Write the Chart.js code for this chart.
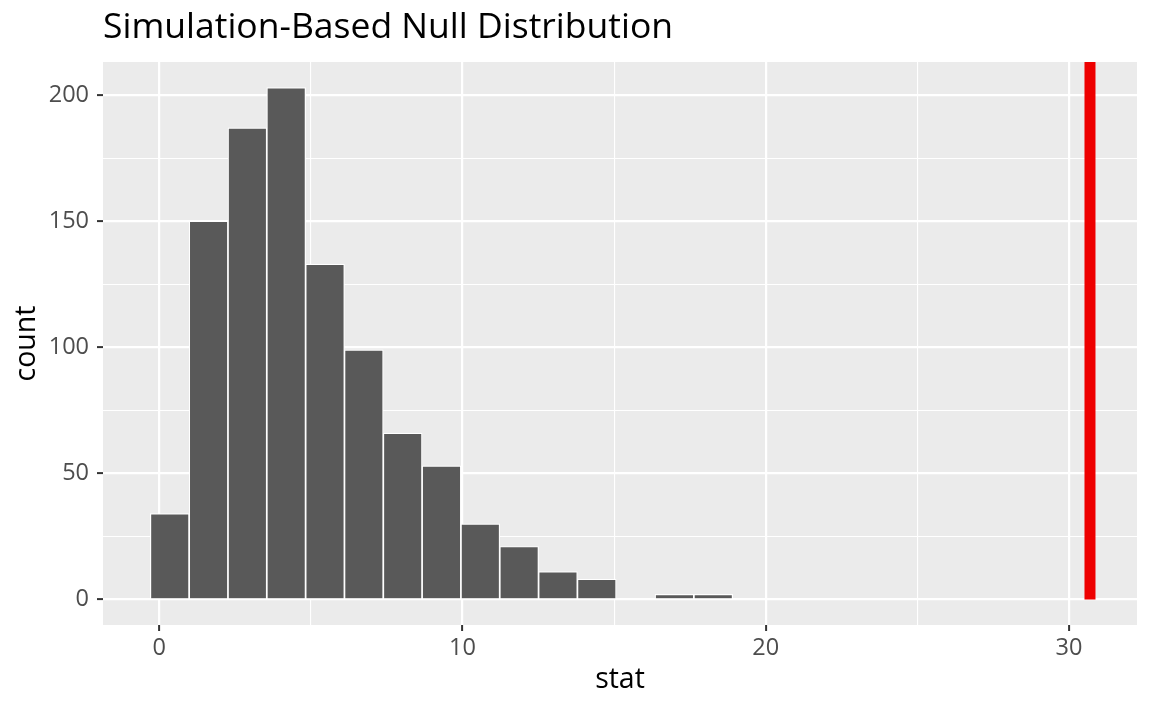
<!DOCTYPE html>
<html>
<head>
<meta charset="utf-8">
<script src="https://cdn.jsdelivr.net/npm/chart.js@4"></script>
<style>
  html, body { margin: 0; padding: 0; background: #fff; }
  #wrap { width: 1152px; height: 711px; }
</style>
</head>
<body>
<div id="wrap"><canvas id="nullDist"></canvas></div>
<script>
// histogram bins (15 bins)
var binCenters = [0.35, 1.63, 2.91, 4.19, 5.47, 6.75, 8.03, 9.31, 10.59, 11.87, 13.15, 14.43, 15.71, 16.99, 18.27];
var binCounts = [34, 150, 187, 203, 133, 99, 66, 53, 30, 21, 11, 8, 0, 2, 2];

// observed statistic (red line)
var obsStat = 30.69;

// axis limits and breaks
var xLimits = [-1.85, 32.24];
var yLimits = [-10.15, 213.15];
var xMajor = [0, 10, 20, 30];
var xMinor = [5, 15, 25];
var yMajor = [0, 50, 100, 150, 200];
var yMinor = [25, 75, 125, 175];

var titleText = 'Simulation-Based Null Distribution';
var xTitle = 'stat';
var yTitle = 'count';

var FONT = "'Open Sans', 'Noto Sans', sans-serif";

function isMajor(list, c) {
    return !!(c && c.tick && list.indexOf(c.tick.value) !== -1);
}

function setTicks(major, minor) {
    return function (scale) {
        scale.ticks = major.concat(minor).sort(function (a, b) { return a - b; })
            .map(function (v) { return { value: v }; });
    };
}

// grey panel behind the grid + plot title
var panelPlugin = {
    id: 'panel',
    beforeDraw: function (chart) {
        var a = chart.chartArea, ctx = chart.ctx;
        ctx.save();
        ctx.fillStyle = '#EBEBEB';
        ctx.fillRect(a.left, a.top, a.right - a.left, a.bottom - a.top);
        ctx.restore();
    },
    afterDraw: function (chart) {
        var ctx = chart.ctx;
        ctx.save();
        ctx.fillStyle = '#000';
        ctx.font = '35.5px ' + FONT;
        ctx.textBaseline = 'alphabetic';
        ctx.textAlign = 'left';
        ctx.fillText(titleText, chart.chartArea.left, 38);
        ctx.restore();
    }
};

var histData = binCenters.map(function (x, i) { return { x: x, y: binCounts[i] }; });

var chart = new Chart(document.getElementById('nullDist'), {
    type: 'bar',
    data: {
        datasets: [{
            type: 'line',
            data: [{ x: obsStat, y: 0 }, { x: obsStat, y: yLimits[1] }],
            borderColor: '#EE0000',
            borderWidth: 11,
            pointRadius: 0,
            order: 0
        }, {
            data: histData,
            backgroundColor: '#595959',
            borderColor: '#FFFFFF',
            borderWidth: 1.2,
            barPercentage: 1,
            categoryPercentage: 1,
            order: 1
        }]
    },
    options: {
        responsive: true,
        maintainAspectRatio: false,
        animation: false,
        layout: { padding: { top: 62, right: 15, left: 0, bottom: 0 } },
        plugins: {
            legend: { display: false },
            tooltip: { enabled: false }
        },
        scales: {
            x: {
                type: 'linear',
                offset: false,
                min: xLimits[0],
                max: xLimits[1],
                afterBuildTicks: setTicks(xMajor, xMinor),
                afterFit: function (s) { s.height = 86; },
                border: { display: false },
                grid: {
                    offset: false,
                    color: '#FFFFFF',
                    lineWidth: function (c) { return isMajor(xMajor, c) ? 2.2 : 1.1; },
                    tickColor: function (c) { return isMajor(xMajor, c) ? '#333333' : 'rgba(0,0,0,0)'; },
                    tickWidth: 2,
                    tickLength: 6
                },
                ticks: {
                    color: '#4D4D4D',
                    font: { family: FONT, size: 23.5 },
                    padding: 3,
                    maxRotation: 0,
                    autoSkip: false,
                    callback: function (v) { return xMajor.indexOf(v) !== -1 ? String(v) : ''; }
                },
                title: {
                    display: true,
                    text: xTitle,
                    color: '#000',
                    font: { family: FONT, size: 28.5 },
                    padding: { top: 0, bottom: 14 }
                }
            },
            y: {
                type: 'linear',
                min: yLimits[0],
                max: yLimits[1],
                afterBuildTicks: setTicks(yMajor, yMinor),
                afterFit: function (s) { s.width = 103; },
                border: { display: false },
                grid: {
                    color: '#FFFFFF',
                    lineWidth: function (c) { return isMajor(yMajor, c) ? 2.2 : 1.1; },
                    tickColor: function (c) { return isMajor(yMajor, c) ? '#333333' : 'rgba(0,0,0,0)'; },
                    tickWidth: 2,
                    tickLength: 6
                },
                ticks: {
                    color: '#4D4D4D',
                    font: { family: FONT, size: 23.5 },
                    padding: 8,
                    autoSkip: false,
                    callback: function (v) { return yMajor.indexOf(v) !== -1 ? String(v) : ''; }
                },
                title: {
                    display: true,
                    text: yTitle,
                    color: '#000',
                    font: { family: FONT, size: 28.5 },
                    padding: { top: 10, bottom: 0 }
                }
            }
        }
    },
    plugins: [panelPlugin]
});
</script>
</body>
</html>
